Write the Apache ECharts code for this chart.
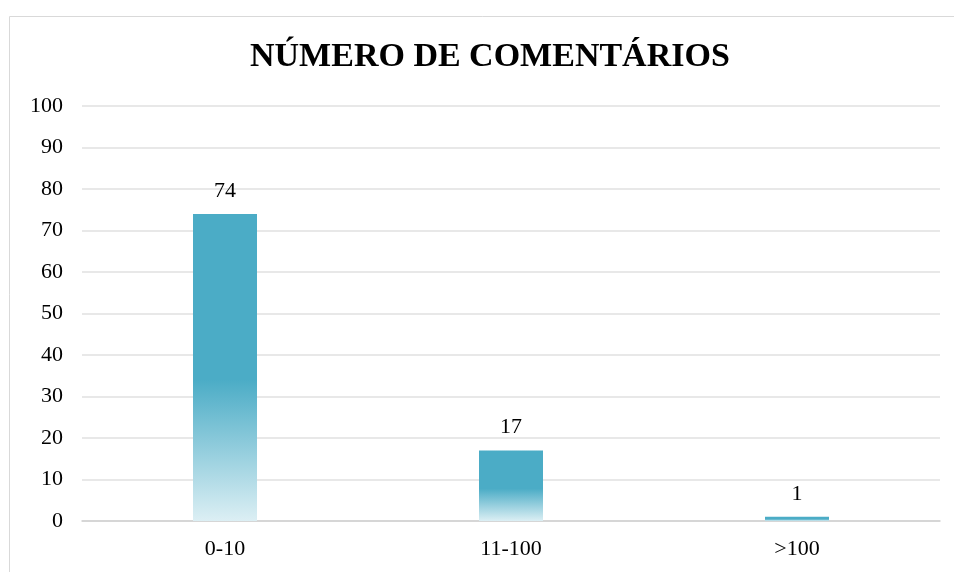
<!DOCTYPE html>
<html lang="pt">
<head>
<meta charset="utf-8">
<title>Número de comentários</title>
<script src="https://cdn.jsdelivr.net/npm/echarts@6/dist/echarts.min.js"></script>
<style>
	html, body {margin: 0; padding: 0; background: #fff;}
	#chart {width: 954px; height: 572px;}
</style>
</head>
<body>
<div id="chart"></div>
<script>
const title = 'NÚMERO DE COMENTÁRIOS';
const categories = ['0-10', '11-100', '>100'];
const values = [74, 17, 1];
const yTicks = {min: 0, max: 100, interval: 10};

const font = '"Liberation Serif", "Times New Roman", serif';
const teal = '#4BACC6';

const fill = new echarts.graphic.LinearGradient(0, 0, 0, 1, [
	{offset: 0, color: teal},
	{offset: 0.54, color: teal},
	{offset: 1, color: '#DCEFF4'}
]);

const chart = echarts.init(document.getElementById('chart'));
chart.setOption({
	animation: false,
	textStyle: {fontFamily: font, color: '#000'},
	title: {
		text: title,
		left: 245,
		top: 35,
		textStyle: {fontFamily: font, fontSize: 34, fontWeight: 'bold', color: '#000'}
	},
	graphic: [{
		type: 'rect',
		shape: {x: 9.5, y: 16.5, width: 1000, height: 700},
		style: {fill: 'none', stroke: '#d9d9d9', lineWidth: 1}
	}],
	grid: {left: 82, right: 14, top: 106, bottom: 51},
	xAxis: {
		type: 'category',
		data: categories,
		axisLine: {lineStyle: {color: '#d0d0d0', width: 1.5}},
		axisTick: {show: false},
		axisLabel: {fontFamily: font, fontSize: 22, color: '#000', margin: 17}
	},
	yAxis: {
		type: 'value',
		min: yTicks.min,
		max: yTicks.max,
		interval: yTicks.interval,
		axisLine: {show: false},
		axisTick: {show: false},
		splitLine: {lineStyle: {color: '#e0e0e0', width: 1.5}},
		axisLabel: {fontFamily: font, fontSize: 22, color: '#000', margin: 19}
	},
	series: [{
		type: 'bar',
		data: values,
		barWidth: 64,
		itemStyle: {color: fill},
		label: {
			show: true,
			position: 'top',
			distance: 12,
			fontFamily: font,
			fontSize: 22,
			color: '#000'
		}
	}]
});
</script>
</body>
</html>
